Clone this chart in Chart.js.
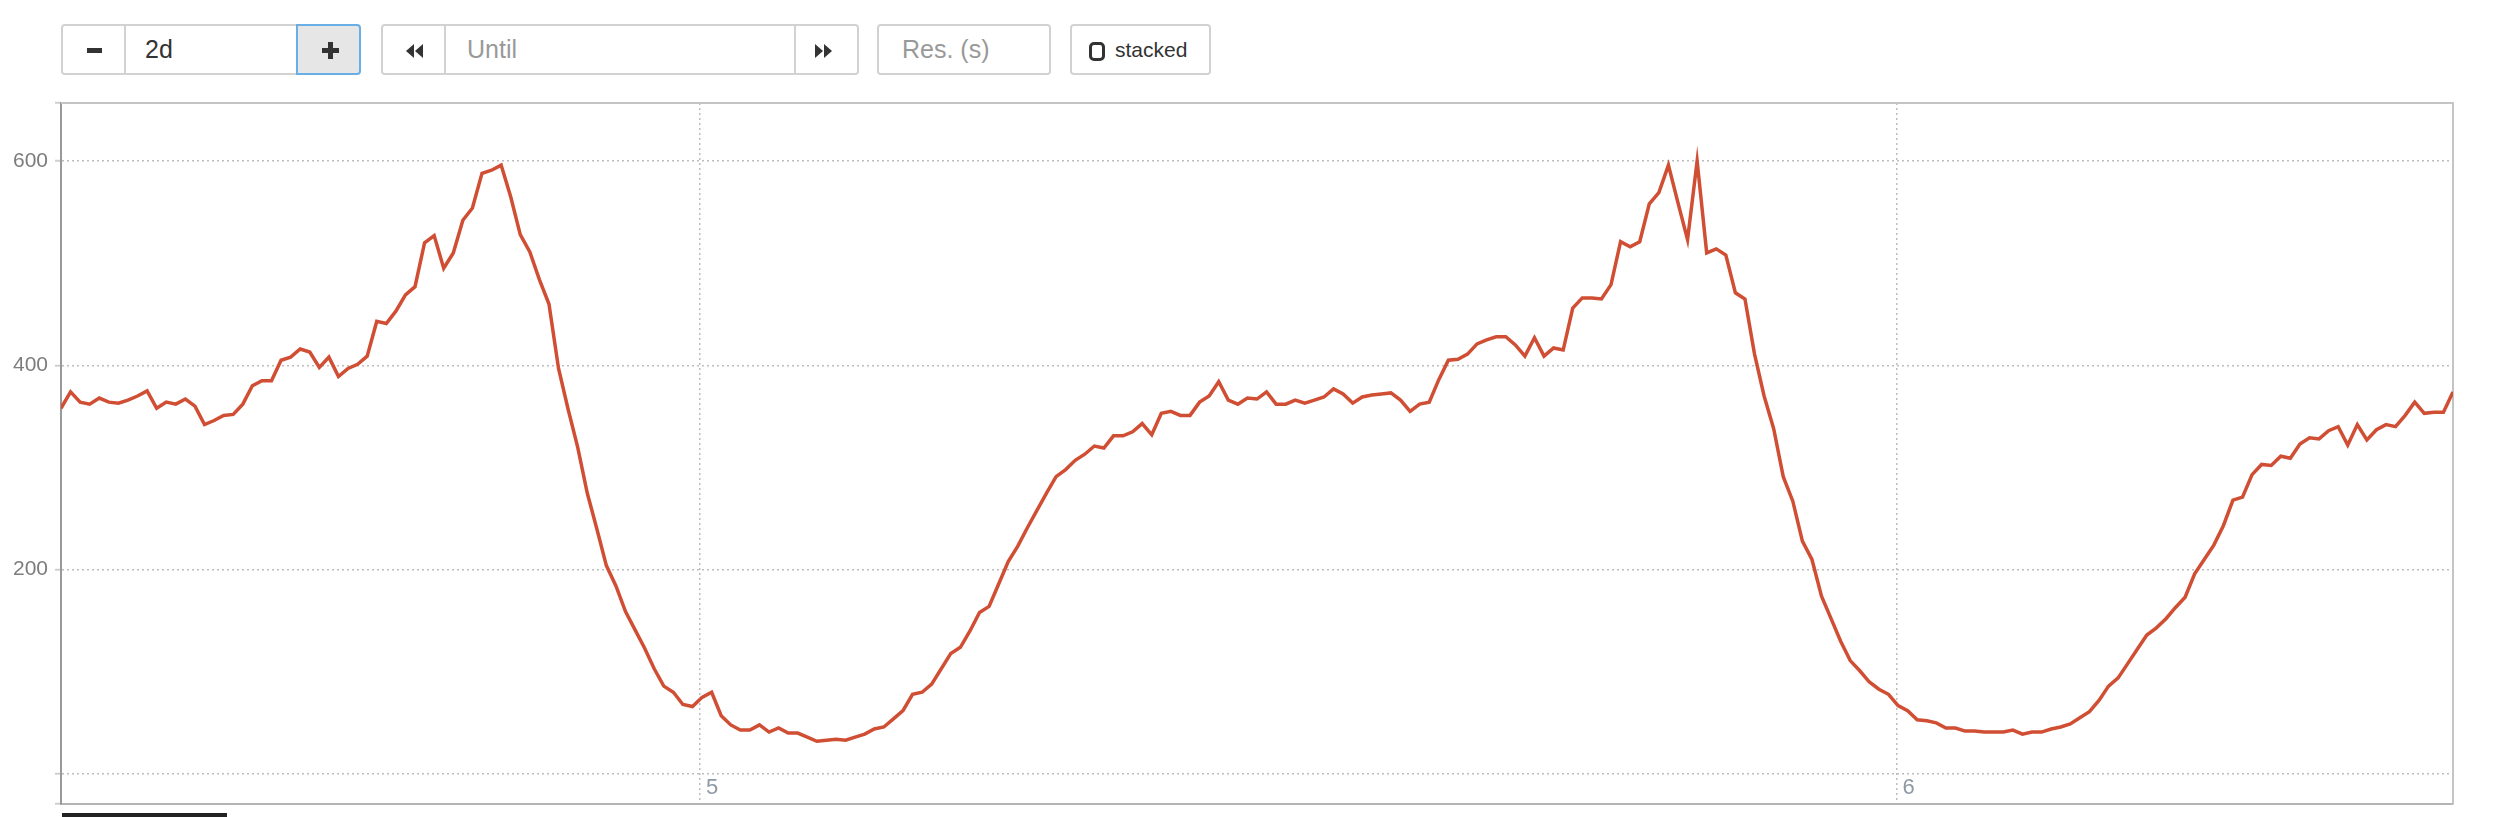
<!DOCTYPE html>
<html>
<head>
<meta charset="utf-8">
<script src="https://cdn.jsdelivr.net/npm/chart.js@4.4.1/dist/chart.umd.min.js"></script>
<style>
  html, body { margin: 0; padding: 0; background: #fff; }
  body { width: 2500px; height: 817px; position: relative; overflow: hidden;
         font-family: "Liberation Sans", Arial, Helvetica, sans-serif; }
  .box { position: absolute; top: 24px; height: 51px; box-sizing: border-box;
         border: 2px solid #d2d2d2; background: #fff; }
  .txt { position: absolute; top: 24px; height: 51px; line-height: 51px; font-size: 25px; }
  .bar { position: absolute; background: #333; }
  #chart { position: absolute; left: 0; top: 93px; }
  #legendBar { position: absolute; left: 62px; top: 813px; width: 165px; height: 4px; background: #222; }
</style>
</head>
<body>
  <!-- range group -->
  <div class="box" style="left:61px;width:65px;border-radius:4px 0 0 4px"></div>
  <div class="bar" style="left:87px;top:48px;width:15px;height:5px"></div>
  <div class="box" style="left:124px;width:174px"></div>
  <div class="txt" style="left:145px;color:#333">2d</div>
  <div class="box" style="left:296px;width:65px;background:#e6e6e6;border-color:#6aaee6;border-radius:0 4px 4px 0"></div>
  <div class="bar" style="left:322px;top:48px;width:17px;height:5px"></div>
  <div class="bar" style="left:328px;top:42px;width:5px;height:17px"></div>

  <!-- until group -->
  <div class="box" style="left:381px;width:65px;border-radius:4px 0 0 4px"></div>
  <svg style="position:absolute;left:406px;top:44px" width="17" height="14"><polygon points="8,0 8,14 0,7" fill="#333"/><polygon points="17,0 17,14 9,7" fill="#333"/></svg>
  <div class="box" style="left:444px;width:352px"></div>
  <div class="txt" style="left:467px;color:#999">Until</div>
  <div class="box" style="left:794px;width:65px;border-radius:0 4px 4px 0"></div>
  <svg style="position:absolute;left:815px;top:44px" width="17" height="14"><polygon points="0,0 0,14 8,7" fill="#333"/><polygon points="9,0 9,14 17,7" fill="#333"/></svg>

  <div class="box" style="left:877px;width:174px;border-radius:4px"></div>
  <div class="txt" style="left:902px;color:#999">Res. (s)</div>

  <div class="box" style="left:1070px;width:141px;border-radius:4px"></div>
  <div style="position:absolute;left:1089px;top:42px;width:10px;height:13px;border:3px solid #333;border-radius:5px"></div>
  <div class="txt" style="left:1115px;font-size:21px;color:#333">stacked</div>

  <canvas id="chart" width="2500" height="724"></canvas>
  <div id="legendBar"></div>

<script>
// sample spacing of the query (seconds) and first sample time, in days of month
const STEP_SECONDS = 691;
const FIRST_SAMPLE_DAY = 4.46584;

// series values, one per step
const rate = [
  358, 374, 364, 362, 368, 364, 363, 366, 370, 375,
  358, 364, 362, 367, 360, 342, 346, 351, 352, 362,
  380, 385, 385, 405, 408, 416, 413, 398, 408, 389,
  397, 401, 409, 443, 441, 453, 469, 477, 520, 527,
  495, 510, 542, 554, 588, 591, 596, 565, 528, 511,
  484, 460, 397, 357, 320, 275, 240, 204, 184, 159,
  141, 123, 103, 86, 80, 68, 66, 75, 80, 57,
  48, 43, 43, 48, 41, 45, 40, 40, 36, 32,
  33, 34, 33, 36, 39, 44, 46, 54, 62, 78,
  80, 88, 103, 118, 124, 140, 158, 164, 186, 208,
  223, 241, 258, 275, 291, 298, 307, 313, 321, 319,
  331, 331, 335, 343, 332, 353, 355, 351, 351, 364,
  370, 384, 366, 362, 368, 367, 374, 362, 362, 366,
  363, 366, 369, 377, 372, 363, 369, 371, 372, 373,
  366, 355, 362, 364, 386, 405, 406, 411, 421, 425,
  428, 428, 420, 409, 427, 409, 417, 415, 456, 466,
  466, 465, 479, 521, 516, 521, 558, 569, 596, 559,
  523, 600, 510, 514, 508, 471, 465, 411, 370, 338,
  291, 267, 228, 210, 174, 152, 130, 111, 101, 90,
  83, 78, 67, 62, 53, 52, 50, 45, 45, 42,
  42, 41, 41, 41, 43, 39, 41, 41, 44, 46,
  49, 55, 61, 72, 86, 94, 108, 122, 136, 143,
  152, 163, 173, 196, 210, 224, 243, 268, 271, 293,
  303, 302, 311, 309, 323, 329, 328, 336, 340, 322,
  342, 327, 337, 342, 340, 351, 364, 353, 354, 354, 374
];

const dayTicks = [5, 6];
const dayLabels = ["5", "6"];
const yTicks = [0, 200, 400, 600];
const yLabels = ["", "200", "400", "600"];
const Y_MIN = -29.4;
const Y_MAX = 656.8;

const stepDays = STEP_SECONDS / 86400;
const points = rate.map((v, i) => ({ x: FIRST_SAMPLE_DAY + i * stepDays, y: v }));

// top and right edges of the plot box
const framePlugin = {
  id: "frame",
  beforeDatasetsDraw(chart) {
    const { ctx, chartArea: a } = chart;
    ctx.save();
    ctx.strokeStyle = "#c4c4c4";
    ctx.lineWidth = 2;
    ctx.beginPath();
    ctx.moveTo(a.left, a.top);
    ctx.lineTo(a.right, a.top);
    ctx.lineTo(a.right, a.bottom);
    ctx.stroke();
    ctx.restore();
  }
};

// day labels sit inside the plot, right of their grid line
const dayLabelPlugin = {
  id: "dayLabels",
  afterDatasetsDraw(chart) {
    const { ctx, chartArea: a } = chart;
    const xs = chart.scales.x;
    ctx.save();
    ctx.fillStyle = "#8e99a4";
    ctx.font = "22px 'Liberation Sans', Arial, sans-serif";
    ctx.textAlign = "left";
    ctx.textBaseline = "alphabetic";
    dayTicks.forEach((d, i) => {
      ctx.fillText(dayLabels[i], xs.getPixelForValue(d) + 6, a.bottom - 10);
    });
    ctx.restore();
  }
};

new Chart(document.getElementById("chart").getContext("2d"), {
  type: "line",
  data: {
    datasets: [{
      data: points,
      borderColor: "#d04e33",
      borderWidth: 3.5,
      pointRadius: 0,
      tension: 0,
      fill: false
    }]
  },
  options: {
    responsive: false,
    animation: false,
    layout: { padding: { top: 10, right: 47, bottom: 13, left: 0 } },
    plugins: { legend: { display: false }, tooltip: { enabled: false } },
    scales: {
      x: {
        type: "linear",
        min: FIRST_SAMPLE_DAY,
        max: FIRST_SAMPLE_DAY + (rate.length - 1) * stepDays,
        afterBuildTicks: (s) => { s.ticks = dayTicks.map((v) => ({ value: v })); },
        afterFit: (s) => { s.height = 0; s.paddingLeft = 0; s.paddingRight = 0; },
        ticks: { display: false },
        grid: { color: "#bdbdbd", lineWidth: 1.5, drawTicks: false },
        border: { color: "#b4b4b4", width: 2, dash: [2, 3] }
      },
      y: {
        min: Y_MIN,
        max: Y_MAX,
        afterBuildTicks: (s) => {
          s.ticks = [Y_MIN, ...yTicks, Y_MAX].map((v) => ({ value: v }));
        },
        afterFit: (s) => { s.width = 61; s.paddingTop = 0; s.paddingBottom = 0; },
        ticks: {
          padding: 7,
          color: "#7d7d7d",
          font: { family: "'Liberation Sans', Arial, sans-serif", size: 21 },
          callback: (v) => {
            const k = yTicks.indexOf(v);
            return k >= 0 ? yLabels[k] : "";
          }
        },
        grid: {
          color: (c) => (c.tick && yTicks.includes(c.tick.value) ? "#bdbdbd" : "rgba(0,0,0,0)"),
          lineWidth: 1.5,
          tickLength: 6,
          tickColor: "#cfcfcf",
          tickWidth: 2,
          tickBorderDash: []
        },
        border: { color: "#999", width: 2, dash: [2, 3] }
      }
    }
  },
  plugins: [framePlugin, dayLabelPlugin]
});
</script>
</body>
</html>
